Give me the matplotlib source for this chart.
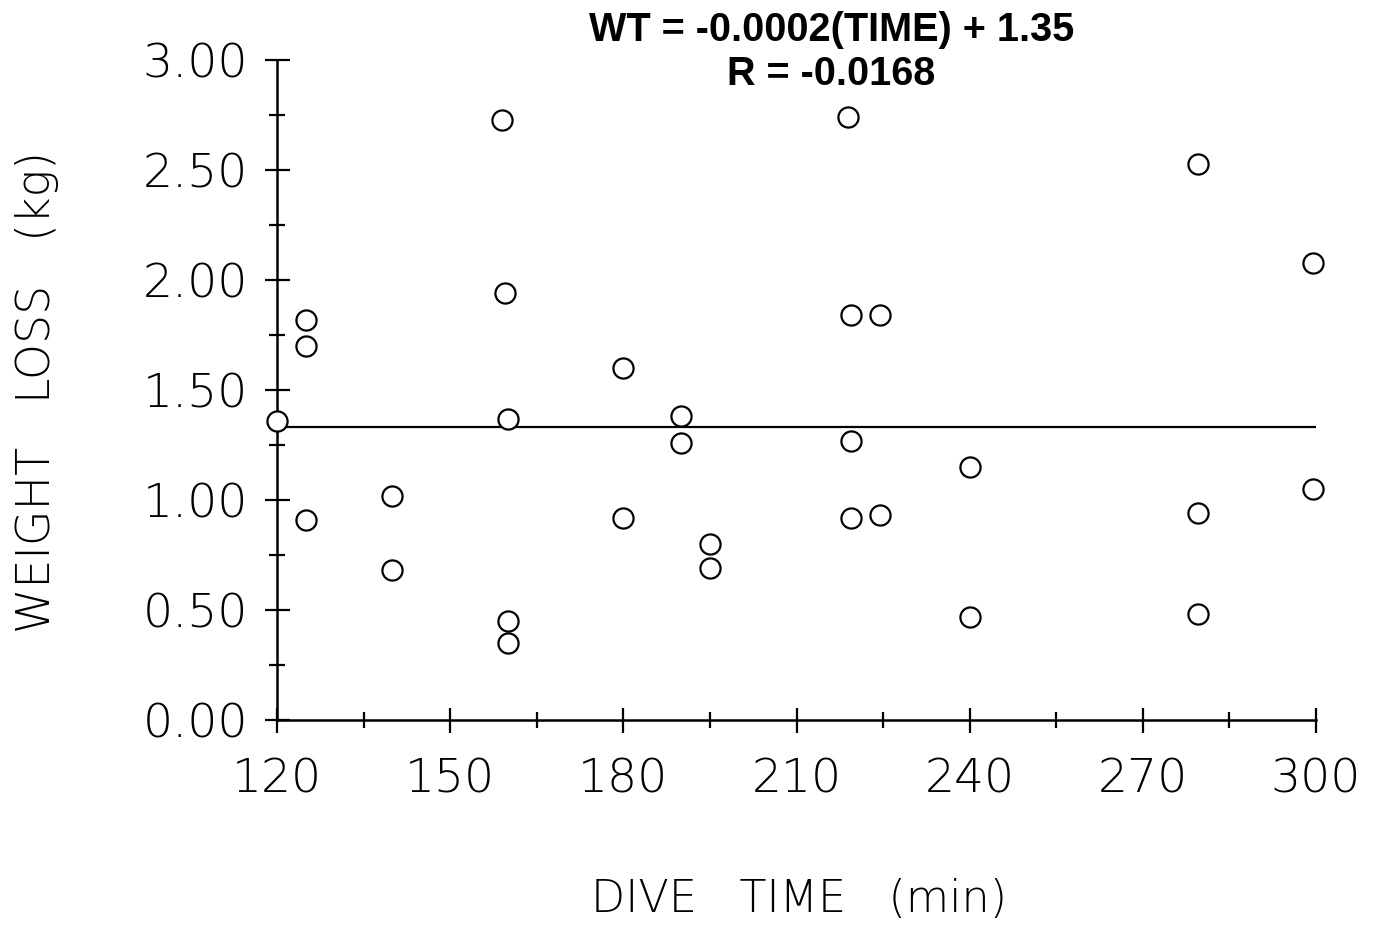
import matplotlib
matplotlib.use("Agg")
import matplotlib.pyplot as plt
from matplotlib.ticker import MultipleLocator, FormatStrFormatter

# dive time (min) and weight loss (kg)
dive_time = [120, 125, 125, 125, 140, 140, 159, 159.5, 160, 160, 160,
             180, 180, 190, 190, 195, 195, 219, 219.5, 219.5, 219.5,
             224.5, 224.5, 240, 240, 279.5, 279.5, 279.5, 299.5, 299.5]
weight_loss = [1.36, 1.82, 1.70, 0.91, 1.02, 0.68, 2.73, 1.94, 1.37, 0.45, 0.35,
               1.60, 0.92, 1.38, 1.26, 0.80, 0.69, 2.74, 1.84, 1.27, 0.92,
               1.84, 0.93, 1.15, 0.47, 2.53, 0.94, 0.48, 2.08, 1.05]

# regression line as drawn
fit_x = [120, 300]
fit_y = [1.333, 1.333]

title = "WT = -0.0002(TIME) + 1.35\nR = -0.0168"

fig = plt.figure(figsize=(13.86, 9.26), dpi=100)
ax = fig.add_axes([0.1999, 0.2225, 0.7496, 0.7125])

ax.plot(dive_time, weight_loss, 'o', mfc='white', mec='black', ms=14.5, mew=1.6,
        clip_on=False, zorder=3)
ax.plot(fit_x, fit_y, '-', color='black', lw=1.6, zorder=2)

ax.set_xlim(120, 300)
ax.set_ylim(0, 3)
for s in ['top', 'right']:
    ax.spines[s].set_visible(False)
for s in ['left', 'bottom']:
    ax.spines[s].set_linewidth(1.8)

ax.xaxis.set_major_locator(MultipleLocator(30))
ax.xaxis.set_minor_locator(MultipleLocator(15))
ax.yaxis.set_major_locator(MultipleLocator(0.5))
ax.yaxis.set_minor_locator(MultipleLocator(0.25))
ax.tick_params(which='major', direction='inout', length=18, width=1.6)
ax.tick_params(which='minor', direction='inout', length=11, width=1.6)
ax.tick_params(axis='x', which='major', pad=18, labelsize=34)
ax.tick_params(axis='y', which='major', pad=12, labelsize=34)
ax.yaxis.set_major_formatter(FormatStrFormatter('%.2f'))
for lab in ax.get_xticklabels() + ax.get_yticklabels():
    lab.set_fontweight('light')

fig.text(799 / 1386, 1 - 900 / 926, "DIVE   TIME   (min)", ha='center', va='center',
         fontsize=32, fontweight='light')
fig.text(37 / 1386, 1 - 392 / 926, "WEIGHT   LOSS   (kg)", ha='center', va='center',
         rotation=90, fontsize=33, fontweight='light')

fig.text(0.600, 1 - 52 / 926, title, ha='center', va='center', fontsize=28.5,
         fontweight='bold', family='Liberation Sans', linespacing=1.2)

fig.savefig("out.png", dpi=100)
